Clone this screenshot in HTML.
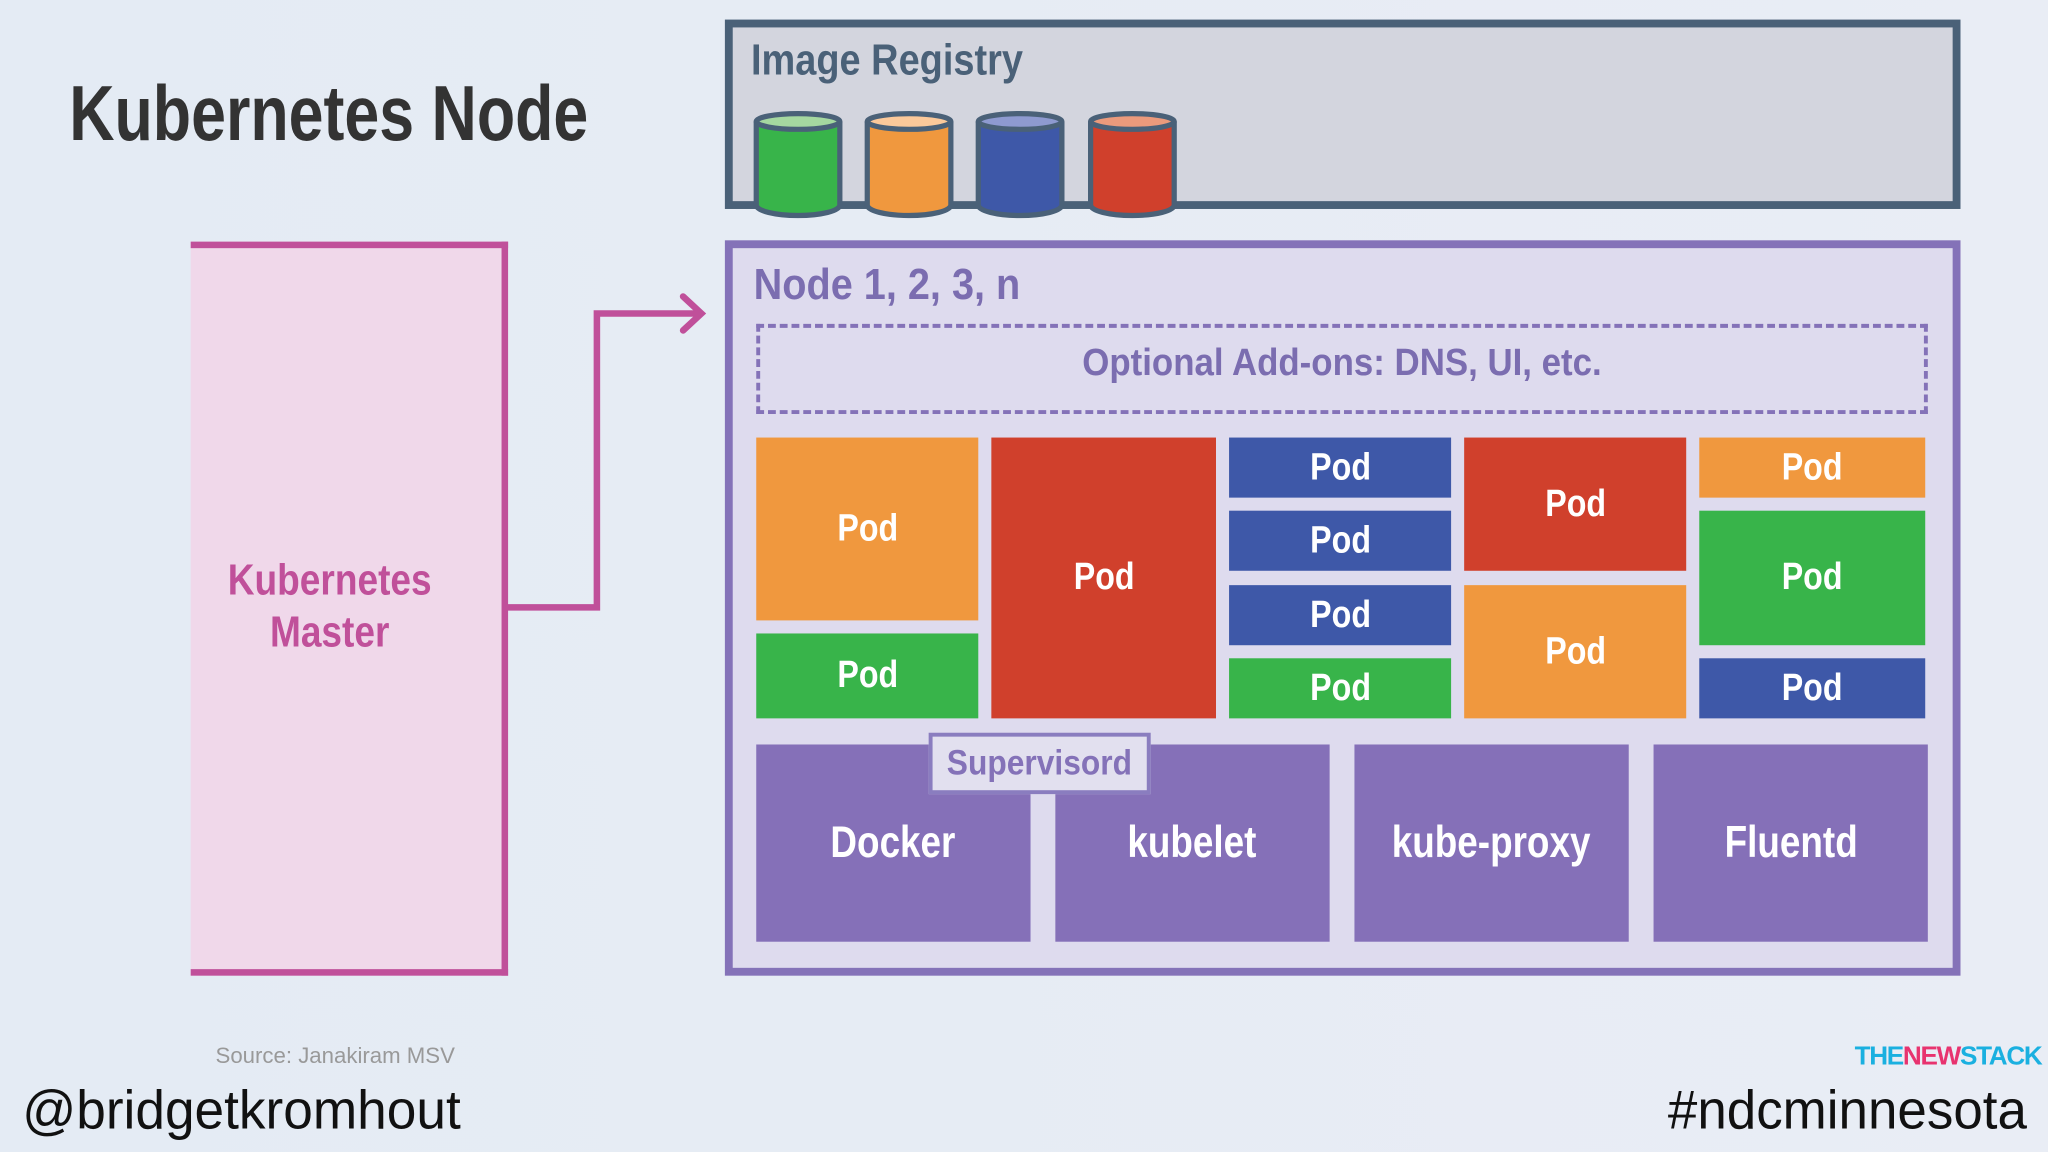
<!DOCTYPE html>
<html><head><meta charset="utf-8"><style>
html,body{margin:0;padding:0;width:2048px;height:1152px;overflow:hidden;background:#e7edf5}
#w{position:absolute;left:0;top:0;width:1568px;height:882px;transform:scale(1.30612);transform-origin:0 0;background:linear-gradient(90deg,#e4ebf4,#e9edf5);font-family:"Liberation Sans",sans-serif}
.a{position:absolute;box-sizing:border-box}
.t{position:absolute;white-space:nowrap;font-weight:bold}
.s{display:inline-block}
.pod{position:absolute;display:flex;align-items:center;justify-content:center;color:#fff;font-weight:bold;font-size:29px}
.pod span{display:inline-block;transform:scaleX(0.85)}
.o{background:#f0983e}.r{background:#d0402c}.b{background:#3e58a8}.g{background:#38b44a}
.comp{position:absolute;top:570px;height:151px;width:210px;background:#8570b8;color:#fff;font-weight:bold;font-size:34px;display:flex;align-items:center;justify-content:center}
.comp span{display:inline-block;transform:scaleX(0.83)}
</style></head><body><div id="w">
<div class="t" style="left:53px;top:52px;font-size:60px;color:#333;transform:scaleX(0.8);transform-origin:0 0">Kubernetes Node</div>

<div class="a" style="left:555px;top:15px;width:946px;height:145px;border:6px solid #4a6178;background:#d3d5de"></div>
<div class="t" style="left:575px;top:27px;font-size:33px;color:#4a6178;transform:scaleX(0.88);transform-origin:0 0">Image Registry</div>
<svg class="a" style="left:570px;top:84px" width="340" height="90">
<g stroke="#4a6178" stroke-width="4">
<path d="M9 9 V73 A32 8 0 0 0 73 73 V9" fill="#38b44a"/><ellipse cx="41" cy="9" rx="32" ry="6" fill="#a5d8a0"/>
<path d="M94 9 V73 A32 8 0 0 0 158 73 V9" fill="#f0983e"/><ellipse cx="126" cy="9" rx="32" ry="6" fill="#fbc99a"/>
<path d="M179 9 V73 A32 8 0 0 0 243 73 V9" fill="#3e58a8"/><ellipse cx="211" cy="9" rx="32" ry="6" fill="#8e9ad0"/>
<path d="M265 9 V73 A32 8 0 0 0 329 73 V9" fill="#d0402c"/><ellipse cx="297" cy="9" rx="32" ry="6" fill="#eb9a7c"/>
</g></svg>

<div class="a" style="left:146px;top:185px;width:243px;height:562px;border:5px solid #c0509a;border-left:none;background:#f0d8ea"></div>
<div class="t" style="left:146px;width:213px;top:424px;font-size:33px;color:#c0509a;text-align:center;line-height:40px;transform:scaleX(0.86);transform-origin:106px 0">Kubernetes<br>Master</div>
<svg class="a" style="left:380px;top:220px" width="170" height="260">
<path d="M7 245 H77 V20 H155" fill="none" stroke="#c0509a" stroke-width="5"/>
<path d="M143 7 L157 20 L143 33" fill="none" stroke="#c0509a" stroke-width="5" stroke-linecap="round"/>
</svg>

<div class="a" style="left:555px;top:184px;width:946px;height:563px;border:6px solid #8472b8;background:#dedbee"></div>
<div class="t" style="left:577px;top:199px;font-size:33px;color:#7b6db0;transform:scaleX(0.92);transform-origin:0 0">Node 1, 2, 3, n</div>
<div class="a" style="left:579px;top:248px;width:897px;height:69px;border:3px dashed #8472b8"></div>
<div class="t" style="left:579px;width:897px;top:262px;font-size:29px;color:#7b6db0;text-align:center;transform:scaleX(0.92);transform-origin:448px 0">Optional Add-ons: DNS, UI, etc.</div>

<div class="pod o" style="left:579px;top:335px;width:170px;height:140px"><span>Pod</span></div>
<div class="pod g" style="left:579px;top:485px;width:170px;height:65px"><span>Pod</span></div>
<div class="pod r" style="left:759px;top:335px;width:172px;height:215px"><span>Pod</span></div>
<div class="pod b" style="left:941px;top:335px;width:170px;height:46px"><span>Pod</span></div>
<div class="pod b" style="left:941px;top:391px;width:170px;height:46px"><span>Pod</span></div>
<div class="pod b" style="left:941px;top:448px;width:170px;height:46px"><span>Pod</span></div>
<div class="pod g" style="left:941px;top:504px;width:170px;height:46px"><span>Pod</span></div>
<div class="pod r" style="left:1121px;top:335px;width:170px;height:102px"><span>Pod</span></div>
<div class="pod o" style="left:1121px;top:448px;width:170px;height:102px"><span>Pod</span></div>
<div class="pod o" style="left:1301px;top:335px;width:173px;height:46px"><span>Pod</span></div>
<div class="pod g" style="left:1301px;top:391px;width:173px;height:103px"><span>Pod</span></div>
<div class="pod b" style="left:1301px;top:504px;width:173px;height:46px"><span>Pod</span></div>

<div class="comp" style="left:579px"><span>Docker</span></div>
<div class="comp" style="left:808px"><span>kubelet</span></div>
<div class="comp" style="left:1037px"><span>kube-proxy</span></div>
<div class="comp" style="left:1266px"><span>Fluentd</span></div>
<div class="a" style="left:711px;top:561px;width:170px;height:47px;border:3px solid #8a7dbf;background:#e2e0ef;color:#8472b8;font-weight:bold;font-size:27px;text-align:center;line-height:41px"><span class="s" style="transform:scaleX(0.9)">Supervisord</span></div>

<div class="t" style="left:165px;top:799px;font-size:17px;font-weight:normal;color:#999">Source: Janakiram MSV</div>
<div class="t" style="left:17px;top:826px;font-size:42px;font-weight:normal;color:#111;transform:scaleX(0.97);transform-origin:0 0">@bridgetkromhout</div>
<div class="t" style="right:16px;top:826px;font-size:42px;font-weight:normal;color:#111;transform:scaleX(0.965);transform-origin:100% 0">#ndcminnesota</div>
<div class="t" style="right:5px;top:798px;font-size:20px;color:#1ab0e0;letter-spacing:-1px">THE<span style="color:#e8336f">NEW</span>STACK</div>
</div></body></html>
